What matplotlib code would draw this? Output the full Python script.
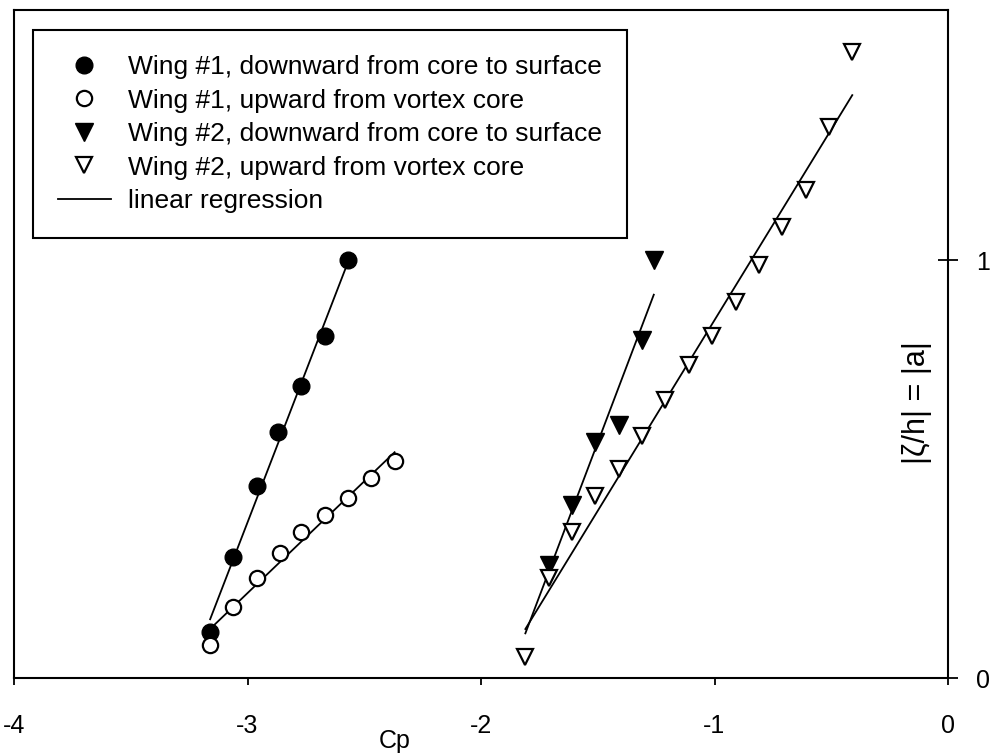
import numpy as np
import matplotlib
matplotlib.use("Agg")
import matplotlib.pyplot as plt

plt.rcParams['font.family'] = ['Liberation Sans', 'DejaVu Sans']

# Wing #1 pressure coefficient vs. normalised height
w1_down_cp = [-3.16, -3.06, -2.96, -2.87, -2.77, -2.67, -2.57]
w1_down_a = [0.11, 0.29, 0.46, 0.59, 0.70, 0.82, 1.00]
w1_up_cp = [-3.16, -3.06, -2.96, -2.86, -2.77, -2.67, -2.57, -2.47, -2.37]
w1_up_a = [0.08, 0.17, 0.24, 0.30, 0.35, 0.39, 0.43, 0.48, 0.52]

# Wing #2
w2_down_cp = [-1.71, -1.61, -1.51, -1.41, -1.31, -1.26]
w2_down_a = [0.27, 0.415, 0.565, 0.605, 0.81, 1.00]
w2_up_cp = [-1.81, -1.71, -1.61, -1.51, -1.41, -1.31, -1.21, -1.11,
            -1.01, -0.91, -0.81, -0.71, -0.61, -0.51, -0.41]
w2_up_a = [0.05, 0.24, 0.35, 0.435, 0.50, 0.58, 0.665, 0.75,
           0.82, 0.90, 0.99, 1.08, 1.17, 1.32, 1.50]

# Cp range each regression line is drawn over
fit_spans = {
    'w1_down': (-3.16, -2.57),
    'w1_up': (-3.16, -2.37),
    'w2_down': (-1.81, -1.26),
    'w2_up': (-1.81, -0.41),
}

labels = ['Wing #1, downward from core to surface',
          'Wing #1, upward from vortex core',
          'Wing #2, downward from core to surface',
          'Wing #2, upward from vortex core',
          'linear regression']

fig = plt.figure(figsize=(9.92, 7.54), dpi=100)
ax = fig.add_axes([14 / 992, 76 / 754, 934 / 992, 668 / 754])


def regression(cp, a, span, ax):
    k, b = np.polyfit(cp, a, 1)
    xs = np.array(span)
    ax.plot(xs, k * xs + b, color='black', lw=1.3, zorder=2)


regression(w1_down_cp, w1_down_a, fit_spans['w1_down'], ax)
regression(w1_up_cp, w1_up_a, fit_spans['w1_up'], ax)
regression(w2_down_cp, w2_down_a, fit_spans['w2_down'], ax)
regression(w2_up_cp, w2_up_a, fit_spans['w2_up'], ax)

h1, = ax.plot(w1_down_cp, w1_down_a, 'o', ms=12, mfc='black', mec='black', ls='none', zorder=3)
h2, = ax.plot(w1_up_cp, w1_up_a, 'o', ms=11, mfc='white', mec='black', mew=1.6, ls='none', zorder=3)
h3, = ax.plot(w2_down_cp, w2_down_a, 'v', ms=13, mfc='black', mec='black', ls='none', zorder=3)
h4, = ax.plot(w2_up_cp, w2_up_a, 'v', ms=12, mfc='white', mec='black', mew=1.6, ls='none', zorder=3)
h5, = ax.plot([], [], color='black', lw=1.3)

ax.set_xlim(-4, 0)
ax.set_ylim(0, 1.6)
ax.set_xticks([-4, -3, -2, -1, 0])
ax.set_xticklabels(['-4', '-3', '-2', '-1', '0'])
ax.set_yticks([0, 1])
ax.yaxis.tick_right()
ax.tick_params(axis='x', direction='out', length=5, width=1.3, pad=21, labelsize=18)
ax.tick_params(axis='y', direction='inout', length=14, width=1.3, pad=13, labelsize=18)
for s in ax.spines.values():
    s.set_linewidth(1.5)

ax.set_xlabel('Cp', fontsize=18, va='center')
ax.xaxis.set_label_coords(381 / 934, -63 / 668)
ax.set_ylabel('|ζ/h| = |a|', fontsize=22)
ax.yaxis.set_label_position('right')
ax.yaxis.set_label_coords(903 / 934, 275 / 668)
ax.yaxis.label.set_verticalalignment('center')

leg = ax.legend([h1, h2, h3, h4, h5], labels, loc='upper left',
                bbox_to_anchor=(19 / 934, 648 / 668), borderaxespad=0,
                fontsize=19, handlelength=2.0, handletextpad=0.65,
                borderpad=0.95, labelspacing=0.36, fancybox=False,
                framealpha=1, edgecolor='black')
leg.get_frame().set_linewidth(1.5)

fig.savefig('out.png', dpi=100)
